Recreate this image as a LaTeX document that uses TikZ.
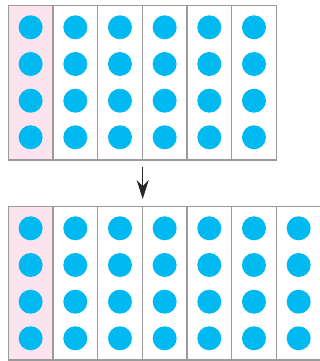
\documentclass[tikz,border=0pt]{standalone}
\usetikzlibrary{arrows.meta}
\definecolor{dotblue}{HTML}{00B9F1}
\definecolor{pinkfill}{HTML}{FCE4EE}
\definecolor{gridgray}{HTML}{9A9A9A}
\begin{document}
\begin{tikzpicture}[x=1pt,y=-1pt,
  gridline/.style={draw=gridgray,line width=1.5pt},
  dotc/.style={circle,fill=dotblue,inner sep=0pt,minimum size=24pt},
  arr/.style={-{Stealth[length=19pt,width=12pt]},line width=1.2pt,black!85}]
\useasboundingbox (0,0) rectangle (320,361);
\def\cw{44.67}
% ---- top grid ----
\fill[pinkfill] (8.3,5.3) rectangle (53,160);
\foreach \i in {0,...,5}{
  \draw[gridline] ({8.3+\i*\cw},5.3) rectangle ({8.3+(\i+1)*\cw},160);
  \foreach \j [count=\k] in {27.3,64,100.7,137.3}{
    \node[dotc] (t\i-\k) at ({8.3+(\i+0.5)*\cw},\j) {};
  }
}
% ---- bottom grid ----
\fill[pinkfill] (8.3,206.5) rectangle (53,360);
\foreach \i in {0,...,6}{
  \draw[gridline] ({8.3+\i*\cw},206.5) -- ({8.3+(\i+1)*\cw},206.5);
  \draw[gridline] ({8.3+\i*\cw},360) -- ({8.3+(\i+1)*\cw},360);
  \draw[gridline] ({8.3+\i*\cw},206.5) -- ({8.3+\i*\cw},360);
  \foreach \j [count=\k] in {228.3,265,301.7,338.3}{
    \node[dotc] (b\i-\k) at ({8.3+(\i+0.5)*\cw},\j) {};
  }
}
% ---- arrow ----
\coordinate (as) at (142.7,166.5);
\coordinate (ae) at (142.7,199);
\draw[arr] (as) -- (ae);
\end{tikzpicture}
\end{document}
